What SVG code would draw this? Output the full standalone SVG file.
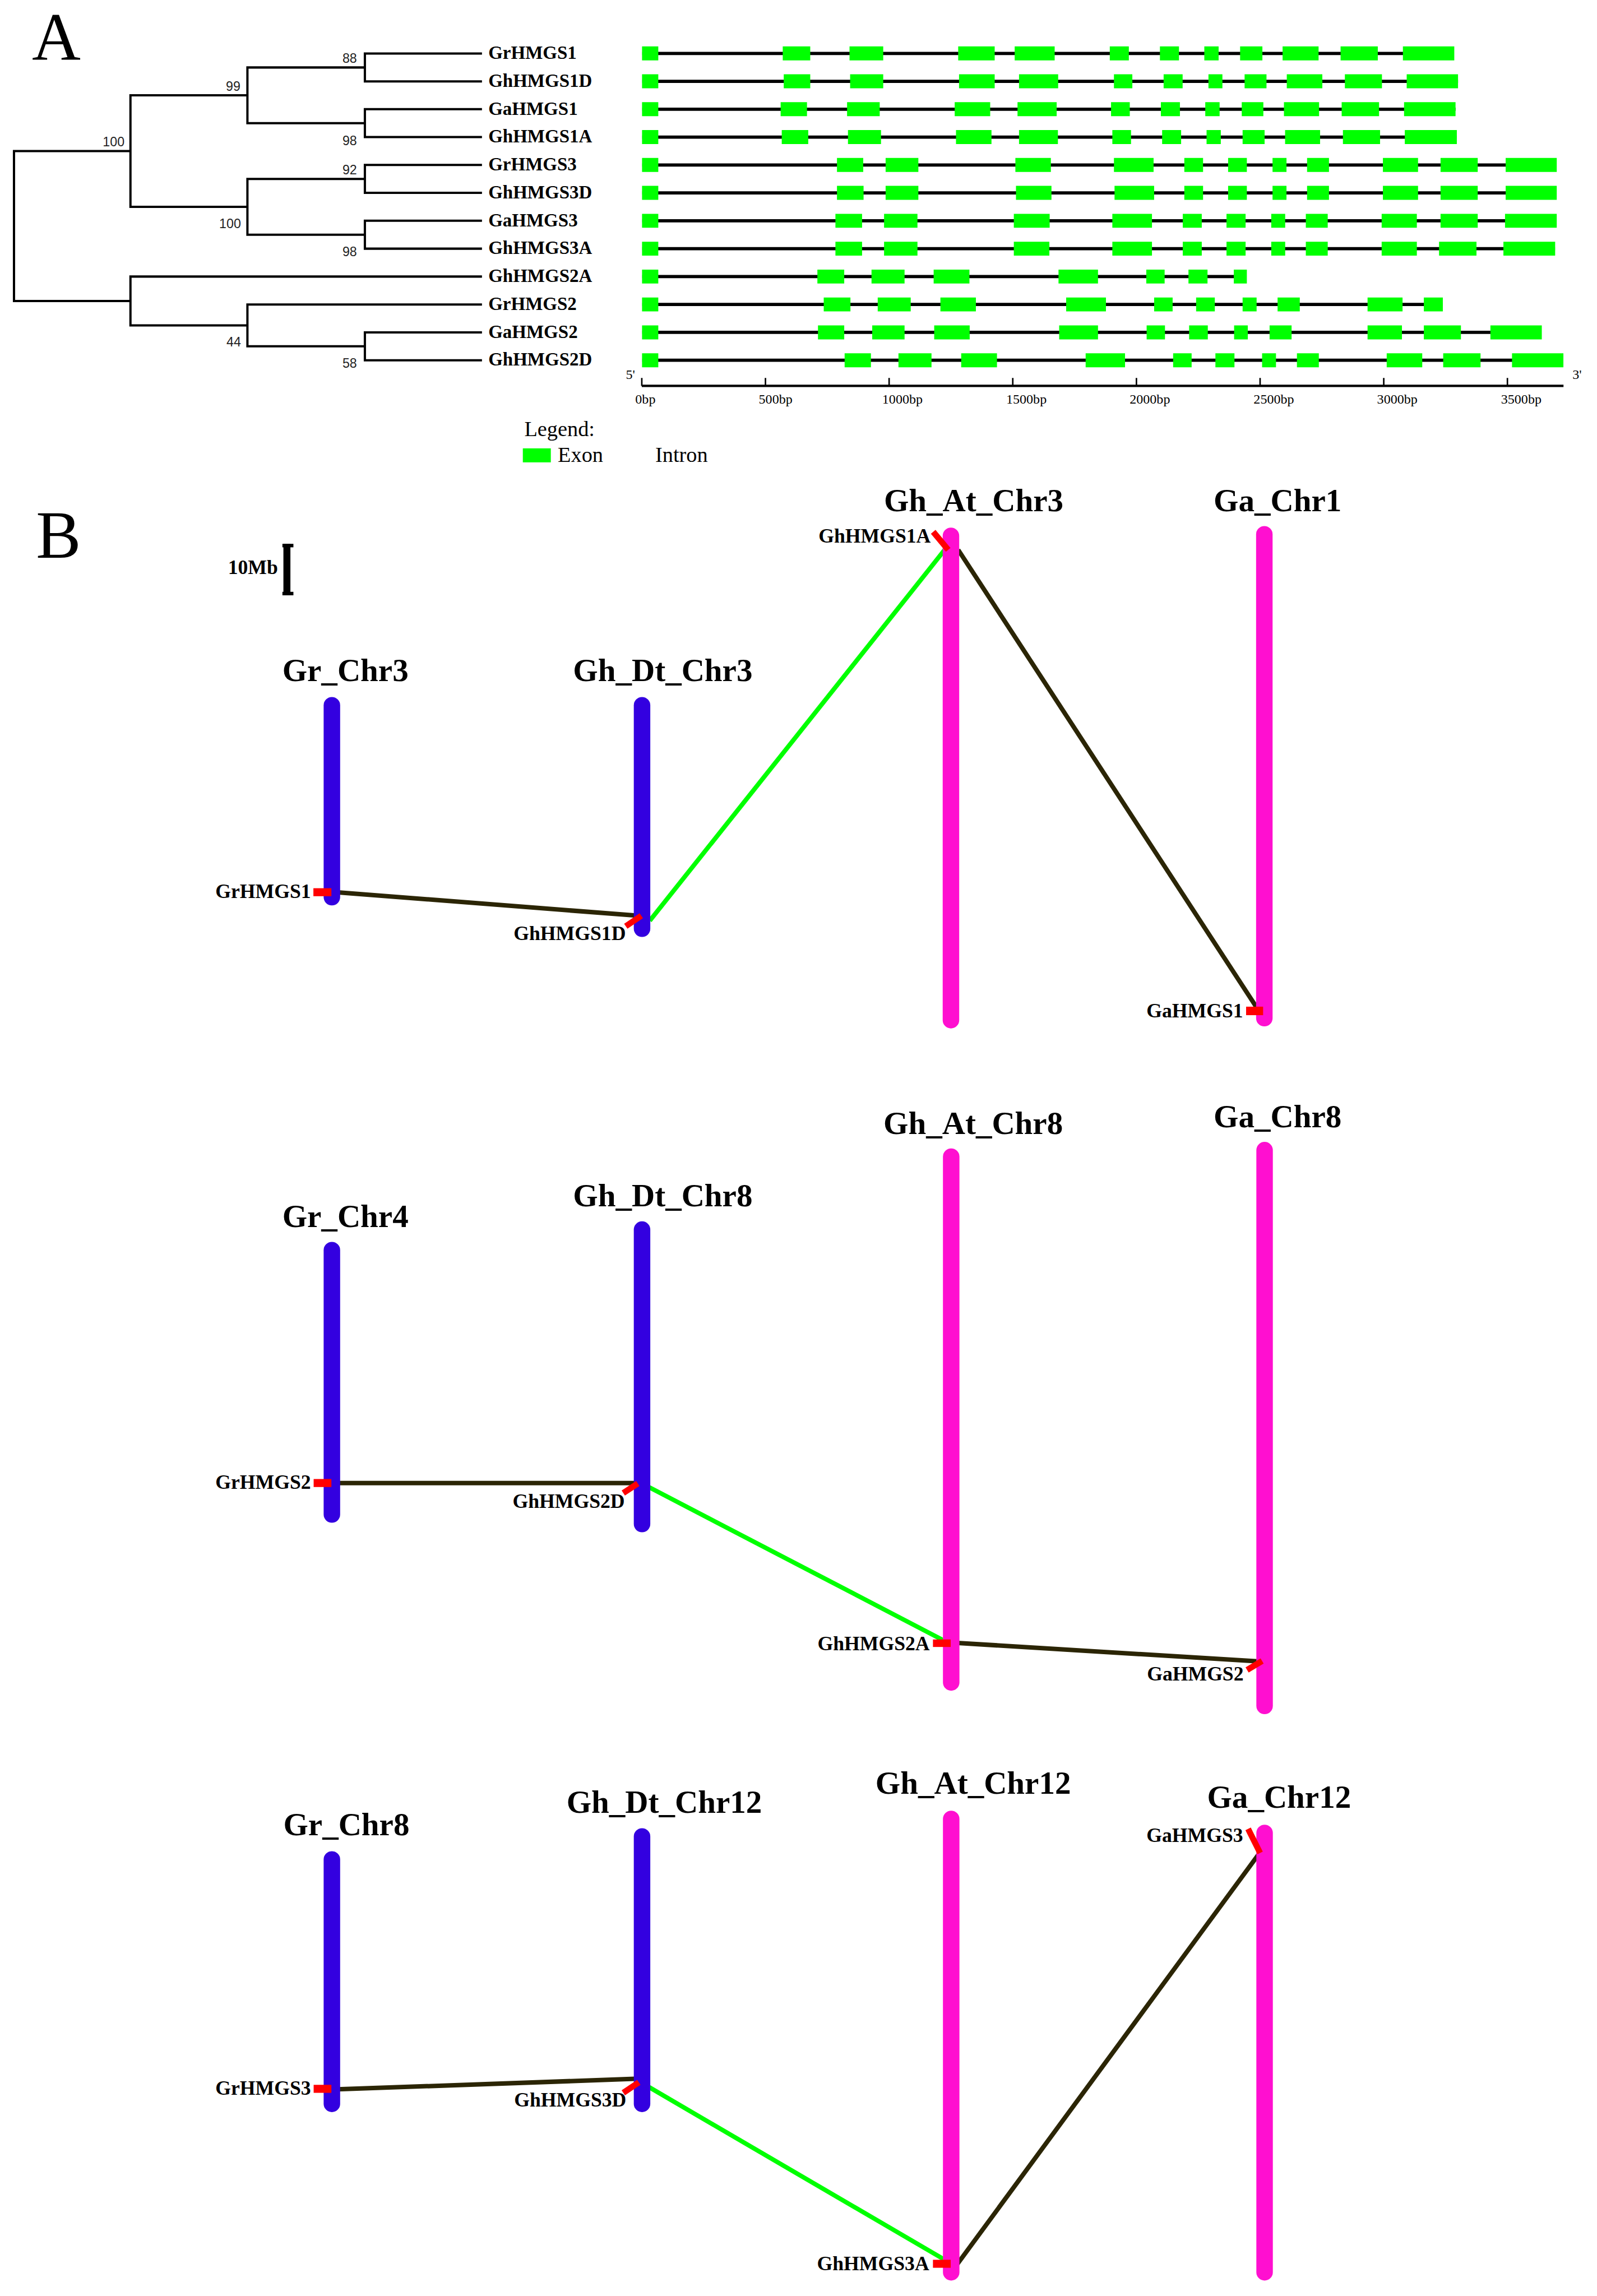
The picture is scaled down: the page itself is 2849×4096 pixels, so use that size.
<svg xmlns="http://www.w3.org/2000/svg" width="2849" height="4096" viewBox="0 0 2849 4096">
<defs>
<style>
.tree{stroke:#000;stroke-width:4.5;fill:none;stroke-linecap:square}
.lbl{font-family:"Liberation Serif","Times New Roman",serif;font-weight:bold;font-size:37px;fill:#000}
.bs{font-family:"Liberation Sans",Arial,sans-serif;font-size:26px;fill:#222;text-anchor:end}
.intron{stroke:#000;stroke-width:6.5}
.ex{fill:#00ff00}
.tick{font-family:"Liberation Serif","Times New Roman",serif;font-size:27px;fill:#000}
.leg{font-family:"Liberation Serif","Times New Roman",serif;font-size:43px;fill:#000}
.panel{font-family:"Liberation Serif","Times New Roman",serif;font-size:135px;fill:#000}
.chrT{font-family:"Liberation Serif","Times New Roman",serif;font-weight:bold;font-size:64px;fill:#000;text-anchor:middle}
.gene{font-family:"Liberation Serif","Times New Roman",serif;font-weight:bold;font-size:40px;fill:#000;text-anchor:end}
.dt{stroke:#3300e0;stroke-width:33;stroke-linecap:round}
.at{stroke:#ff0fd0;stroke-width:33;stroke-linecap:round}
.mk{fill:#ff0000}
.mkl{stroke:#ff0000;stroke-width:12}
.dk{stroke:#2b2505;stroke-width:9}
.gn{stroke:#00ff00;stroke-width:9}
</style>
</defs>
<rect width="2849" height="4096" fill="#fff"/>
<g transform="scale(0.8917)">
<text class="panel" x="64" y="120">A</text>
<g id="tree">
<path class="tree" d="M730,107V163M730,107H962M730,163H962 M730,218.5V274.3M730,218.5H962M730,274.3H962 M495,135V246.4M495,135H730M495,246.4H730 M730,330.1V385.9M730,330.1H962M730,385.9H962 M730,441.7V497.5M730,441.7H962M730,497.5H962 M495,358V469.6M495,358H730M495,469.6H730 M261,190.7V413.8M261,190.7H495M261,413.8H495 M730,664.9V720.7M730,664.9H962M730,720.7H962 M495,609.1V692.8M495,609.1H962M495,692.8H730 M261,553.3V651M261,553.3H962M261,651H495 M28,302.2V602.1M28,302.2H261M28,602.1H261"/>
<text class="bs" x="714" y="126">88</text>
<text class="bs" x="481" y="182">99</text>
<text class="bs" x="249" y="293">100</text>
<text class="bs" x="714" y="290">98</text>
<text class="bs" x="714" y="349">92</text>
<text class="bs" x="482" y="457">100</text>
<text class="bs" x="714" y="513">98</text>
<text class="bs" x="482" y="693">44</text>
<text class="bs" x="714" y="736">58</text>
<text class="lbl" x="977" y="118">GrHMGS1</text>
<text class="lbl" x="977" y="174">GhHMGS1D</text>
<text class="lbl" x="977" y="229.5">GaHMGS1</text>
<text class="lbl" x="977" y="285.3">GhHMGS1A</text>
<text class="lbl" x="977" y="341">GrHMGS3</text>
<text class="lbl" x="977" y="397">GhHMGS3D</text>
<text class="lbl" x="977" y="452.7">GaHMGS3</text>
<text class="lbl" x="977" y="508.5">GhHMGS3A</text>
<text class="lbl" x="977" y="564.3">GhHMGS2A</text>
<text class="lbl" x="977" y="620">GrHMGS2</text>
<text class="lbl" x="977" y="676">GaHMGS2</text>
<text class="lbl" x="977" y="731.7">GhHMGS2D</text>
</g>
<g id="gene-structures">
<g id="g-GrHMGS1" transform="translate(0,106.9)"><line class="intron" x1="1285" x2="2909" y1="0" y2="0"/><path class="ex" d="M1284.5,-14h32.5v28h-32.5zM1566,-14h55v28h-55zM1699.6,-14h67.4v28h-67.4zM1917,-14h73v28h-73zM2030,-14h80v28h-80zM2220.3,-14h38.1v28h-38.1zM2320.6,-14h38.1v28h-38.1zM2409.4,-14h28.6v28h-28.6zM2481,-14h44.6v28h-44.6zM2566,-14h72v28h-72zM2682,-14h74.5v28h-74.5zM2806.7,-14h102.8v28h-102.8z"/></g>
<g id="g-GhHMGS1D" transform="translate(0,162.7)"><line class="intron" x1="1285" x2="2917" y1="0" y2="0"/><path class="ex" d="M1284.5,-14h32.5v28h-32.5zM1568,-14h53v28h-53zM1700.8,-14h66.2v28h-66.2zM1918.7,-14h71.3v28h-71.3zM2038.7,-14h78.3v28h-78.3zM2228.6,-14h36.8v28h-36.8zM2328,-14h38v28h-38zM2417.7,-14h27.9v28h-27.9zM2490,-14h43.8v28h-43.8zM2574.4,-14h71.1v28h-71.1zM2690.6,-14h74.2v28h-74.2zM2814.3,-14h102.7v28h-102.7z"/></g>
<g id="g-GaHMGS1" transform="translate(0,218.5)"><line class="intron" x1="1285" x2="2912" y1="0" y2="0"/><path class="ex" d="M1284.5,-14h32.5v28h-32.5zM1561.8,-14h52.7v28h-52.7zM1694.7,-14h65.3v28h-65.3zM1910,-14h71v28h-71zM2035.7,-14h78.3v28h-78.3zM2222.8,-14h37.5v28h-37.5zM2322.5,-14h38.1v28h-38.1zM2411.3,-14h28.7v28h-28.7zM2484.3,-14h43.2v28h-43.2zM2568.7,-14h70.3v28h-70.3zM2684.2,-14h74.8v28h-74.8zM2809,-14h103v28h-103z"/></g>
<g id="g-GhHMGS1A" transform="translate(0,274.3)"><line class="intron" x1="1285" x2="2914" y1="0" y2="0"/><path class="ex" d="M1284.5,-14h32.5v28h-32.5zM1564,-14h53v28h-53zM1696.5,-14h66.1v28h-66.1zM1912.6,-14h71v28h-71zM2038.7,-14h77.8v28h-77.8zM2225.4,-14h37.4v28h-37.4zM2325,-14h38v28h-38zM2413.9,-14h28.5v28h-28.5zM2486,-14h44v28h-44zM2571,-14h70v28h-70zM2686.7,-14h74.3v28h-74.3zM2810.5,-14h104.1v28h-104.1z"/></g>
<g id="g-GrHMGS3" transform="translate(0,330.1)"><line class="intron" x1="1285" x2="3114" y1="0" y2="0"/><path class="ex" d="M1284.5,-14h32.5v28h-32.5zM1674.5,-14h52.5v28h-52.5zM1771.8,-14h65.5v28h-65.5zM2031.4,-14h71v28h-71zM2228.6,-14h79.3v28h-79.3zM2369.4,-14h37.5v28h-37.5zM2457,-14h37.5v28h-37.5zM2545.9,-14h27.9v28h-27.9zM2615,-14h43.8v28h-43.8zM2766.7,-14h70.3v28h-70.3zM2882,-14h74.4v28h-74.4zM3012.3,-14h102.2v28h-102.2z"/></g>
<g id="g-GhHMGS3D" transform="translate(0,385.9)"><line class="intron" x1="1285" x2="3114" y1="0" y2="0"/><path class="ex" d="M1284.5,-14h32.5v28h-32.5zM1674.5,-14h53.2v28h-53.2zM1771.8,-14h65.5v28h-65.5zM2032.6,-14h71v28h-71zM2229.8,-14h79.2v28h-79.2zM2369.4,-14h37.5v28h-37.5zM2457,-14h37.5v28h-37.5zM2545.9,-14h27.9v28h-27.9zM2615,-14h43.8v28h-43.8zM2766.7,-14h70.3v28h-70.3zM2882,-14h74.4v28h-74.4zM3012.3,-14h102.2v28h-102.2z"/></g>
<g id="g-GaHMGS3" transform="translate(0,441.7)"><line class="intron" x1="1285" x2="3114" y1="0" y2="0"/><path class="ex" d="M1284.5,-14h32.5v28h-32.5zM1671.4,-14h53.3v28h-53.3zM1768.7,-14h66.8v28h-66.8zM2028.3,-14h71.7v28h-71.7zM2225.4,-14h79.3v28h-79.3zM2366.3,-14h38v28h-38zM2453.8,-14h38.2v28h-38.2zM2543.3,-14h27.9v28h-27.9zM2612.5,-14h43.8v28h-43.8zM2764.2,-14h70.4v28h-70.4zM2882,-14h74.4v28h-74.4zM3011,-14h103.5v28h-103.5z"/></g>
<g id="g-GhHMGS3A" transform="translate(0,497.5)"><line class="intron" x1="1285" x2="3111" y1="0" y2="0"/><path class="ex" d="M1284.5,-14h32.5v28h-32.5zM1671.4,-14h53.3v28h-53.3zM1768.7,-14h66.8v28h-66.8zM2028.3,-14h71.1v28h-71.1zM2225.4,-14h79.3v28h-79.3zM2366.3,-14h38v28h-38zM2453.8,-14h38.2v28h-38.2zM2543.3,-14h27.9v28h-27.9zM2612.5,-14h43.8v28h-43.8zM2764.2,-14h70.4v28h-70.4zM2879,-14h74.9v28h-74.9zM3007.8,-14h103.5v28h-103.5z"/></g>
<g id="g-GhHMGS2A" transform="translate(0,553.3)"><line class="intron" x1="1285" x2="2494" y1="0" y2="0"/><path class="ex" d="M1284.5,-14h32.5v28h-32.5zM1635.3,-14h53.7v28h-53.7zM1743.6,-14h66.1v28h-66.1zM1867.9,-14h71.6v28h-71.6zM2117.7,-14h79v28h-79zM2293.3,-14h36.7v28h-36.7zM2377.7,-14h38.1v28h-38.1zM2468.4,-14h26.1v28h-26.1z"/></g>
<g id="g-GrHMGS2" transform="translate(0,609.1)"><line class="intron" x1="1285" x2="2886" y1="0" y2="0"/><path class="ex" d="M1284.5,-14h32.5v28h-32.5zM1648,-14h53.4v28h-53.4zM1756,-14h66v28h-66zM1881.4,-14h71v28h-71zM2133,-14h79.6v28h-79.6zM2309,-14h37v28h-37zM2393,-14h37.4v28h-37.4zM2486,-14h28v28h-28zM2556,-14h44.4v28h-44.4zM2736,-14h70v28h-70zM2848.6,-14h38v28h-38z"/></g>
<g id="g-GaHMGS2" transform="translate(0,664.9)"><line class="intron" x1="1285" x2="3084" y1="0" y2="0"/><path class="ex" d="M1284.5,-14h32.5v28h-32.5zM1636.5,-14h52.5v28h-52.5zM1745,-14h64.7v28h-64.7zM1869,-14h71v28h-71zM2119,-14h77.7v28h-77.7zM2294,-14h36.7v28h-36.7zM2379,-14h37.4v28h-37.4zM2469,-14h27.4v28h-27.4zM2540,-14h44v28h-44zM2736,-14h68.8v28h-68.8zM2848.6,-14h74.2v28h-74.2zM2981.8,-14h102.8v28h-102.8z"/></g>
<g id="g-GhHMGS2D" transform="translate(0,720.7)"><line class="intron" x1="1285" x2="3127" y1="0" y2="0"/><path class="ex" d="M1284.5,-14h32.5v28h-32.5zM1689.8,-14h52.6v28h-52.6zM1797.5,-14h66.1v28h-66.1zM1923,-14h71.6v28h-71.6zM2172,-14h78.8v28h-78.8zM2347,-14h37v28h-37zM2431.6,-14h38.1v28h-38.1zM2525,-14h27.8v28h-27.8zM2594.7,-14h43.8v28h-43.8zM2774.3,-14h71.1v28h-71.1zM2887.3,-14h74.7v28h-74.7zM3025,-14h102.8v28h-102.8z"/></g>
</g>
<g id="axis">
<line x1="1284" y1="772" x2="3128" y2="772" stroke="#000" stroke-width="5"/>
<path d="M1284,756V772M1531.4,756V772M1778.8,756V772M2026.2,756V772M2273.6,756V772M2521,756V772M2768.4,756V772M3015.8,756V772" stroke="#000" stroke-width="3"/>
<text class="tick" x="1252" y="758" font-size="24">5'</text>
<text class="tick" x="3146" y="758" font-size="24">3'</text>
<text class="tick" x="1271" y="807">0bp</text>
<text class="tick" x="1518" y="807">500bp</text>
<text class="tick" x="1765" y="807">1000bp</text>
<text class="tick" x="2013" y="807">1500bp</text>
<text class="tick" x="2260" y="807">2000bp</text>
<text class="tick" x="2508" y="807">2500bp</text>
<text class="tick" x="2755" y="807">3000bp</text>
<text class="tick" x="3003" y="807">3500bp</text>
</g>
<g id="legend">
<text class="leg" x="1049" y="872">Legend:</text>
<rect class="ex" x="1046" y="897" width="56" height="28"/>
<text class="leg" x="1116" y="924">Exon</text>
<text class="leg" x="1311" y="924">Intron</text>
</g>
<text class="panel" x="72" y="1116">B</text>
<g id="scalebar">
<rect x="567" y="1088" width="14" height="103" fill="#000"/>
<rect x="565" y="1088" width="22" height="7" fill="#000"/>
<rect x="565" y="1184" width="22" height="7" fill="#000"/>
<text class="gene" x="556" y="1148">10Mb</text>
</g>
<g id="connectors">
<line class="dk" x1="673" y1="1785" x2="1276" y2="1832"/>
<line class="gn" x1="1300" y1="1842" x2="1890" y2="1100"/>
<line class="dk" x1="1917" y1="1100" x2="2515" y2="2017"/>
<line class="dk" x1="673" y1="2967" x2="1270" y2="2967"/>
<line class="gn" x1="1294" y1="2973" x2="1890" y2="3283"/>
<line class="dk" x1="1916" y1="3287" x2="2521" y2="3324"/>
<line class="dk" x1="675" y1="4180" x2="1270" y2="4159"/>
<line class="gn" x1="1294" y1="4173" x2="1890" y2="4521"/>
<line class="dk" x1="1915" y1="4530" x2="2520" y2="3707"/>
</g>
<g id="Gr_Chr3"><line class="dt" x1="664" y1="1411" x2="664" y2="1795"/><text class="chrT" x="691" y="1363">Gr_Chr3</text></g>
<g id="Gh_Dt_Chr3"><line class="dt" x1="1284.5" y1="1411" x2="1284.5" y2="1858"/><text class="chrT" x="1326" y="1363">Gh_Dt_Chr3</text></g>
<g id="Gh_At_Chr3"><line class="at" x1="1902.5" y1="1072" x2="1902.5" y2="2041"/><text class="chrT" x="1948" y="1023">Gh_At_Chr3</text></g>
<g id="Ga_Chr1"><line class="at" x1="2529.5" y1="1069" x2="2529.5" y2="2037"/><text class="chrT" x="2556" y="1023">Ga_Chr1</text></g>
<g id="Gr_Chr4"><line class="dt" x1="664" y1="2501" x2="664" y2="3030"/><text class="chrT" x="691" y="2455">Gr_Chr4</text></g>
<g id="Gh_Dt_Chr8"><line class="dt" x1="1284.5" y1="2460" x2="1284.5" y2="3049"/><text class="chrT" x="1326" y="2413">Gh_Dt_Chr8</text></g>
<g id="Gh_At_Chr8"><line class="at" x1="1903" y1="2314" x2="1903" y2="3366"/><text class="chrT" x="1947" y="2269">Gh_At_Chr8</text></g>
<g id="Ga_Chr8"><line class="at" x1="2530" y1="2301" x2="2530" y2="3413"/><text class="chrT" x="2556" y="2255">Ga_Chr8</text></g>
<g id="Gr_Chr8"><line class="dt" x1="664" y1="3720" x2="664" y2="4209"/><text class="chrT" x="693" y="3672">Gr_Chr8</text></g>
<g id="Gh_Dt_Chr12"><line class="dt" x1="1284.5" y1="3674" x2="1284.5" y2="4209"/><text class="chrT" x="1329" y="3627">Gh_Dt_Chr12</text></g>
<g id="Gh_At_Chr12"><line class="at" x1="1903" y1="3639" x2="1903" y2="4546"/><text class="chrT" x="1947" y="3589">Gh_At_Chr12</text></g>
<g id="Ga_Chr12"><line class="at" x1="2530" y1="3667" x2="2530" y2="4546"/><text class="chrT" x="2559" y="3617">Ga_Chr12</text></g>
<g id="GrHMGS1"><rect class="mk" x="627" y="1777" width="36" height="16"/><text class="gene" x="622" y="1797">GrHMGS1</text></g>
<g id="GhHMGS1D"><line class="mkl" x1="1252" y1="1853" x2="1283" y2="1832"/><text class="gene" x="1252" y="1881">GhHMGS1D</text></g>
<g id="GhHMGS1A"><line class="mkl" x1="1867" y1="1064" x2="1897" y2="1100"/><text class="gene" x="1862" y="1086">GhHMGS1A</text></g>
<g id="GaHMGS1"><rect class="mk" x="2493" y="2014" width="34" height="17"/><text class="gene" x="2487" y="2035">GaHMGS1</text></g>
<g id="GrHMGS2"><rect class="mk" x="627.5" y="2959" width="35.5" height="16"/><text class="gene" x="622" y="2979">GrHMGS2</text></g>
<g id="GhHMGS2D"><line class="mkl" x1="1247" y1="2987" x2="1276" y2="2968"/><text class="gene" x="1250" y="3017">GhHMGS2D</text></g>
<g id="GhHMGS2A"><rect class="mk" x="1866.5" y="3280" width="35.5" height="15"/><text class="gene" x="1860" y="3302">GhHMGS2A</text></g>
<g id="GaHMGS2"><line class="mkl" x1="2495" y1="3341" x2="2525" y2="3323"/><text class="gene" x="2488" y="3362">GaHMGS2</text></g>
<g id="GrHMGS3"><rect class="mk" x="627.5" y="4171" width="35.5" height="16"/><text class="gene" x="622" y="4191">GrHMGS3</text></g>
<g id="GhHMGS3D"><line class="mkl" x1="1247" y1="4187" x2="1278" y2="4166"/><text class="gene" x="1253" y="4214">GhHMGS3D</text></g>
<g id="GhHMGS3A"><rect class="mk" x="1866.5" y="4521" width="35.5" height="16"/><text class="gene" x="1859" y="4542">GhHMGS3A</text></g>
<g id="GaHMGS3"><line class="mkl" x1="2497" y1="3659" x2="2521" y2="3707"/><text class="gene" x="2487" y="3685">GaHMGS3</text></g>
</g>
</svg>
